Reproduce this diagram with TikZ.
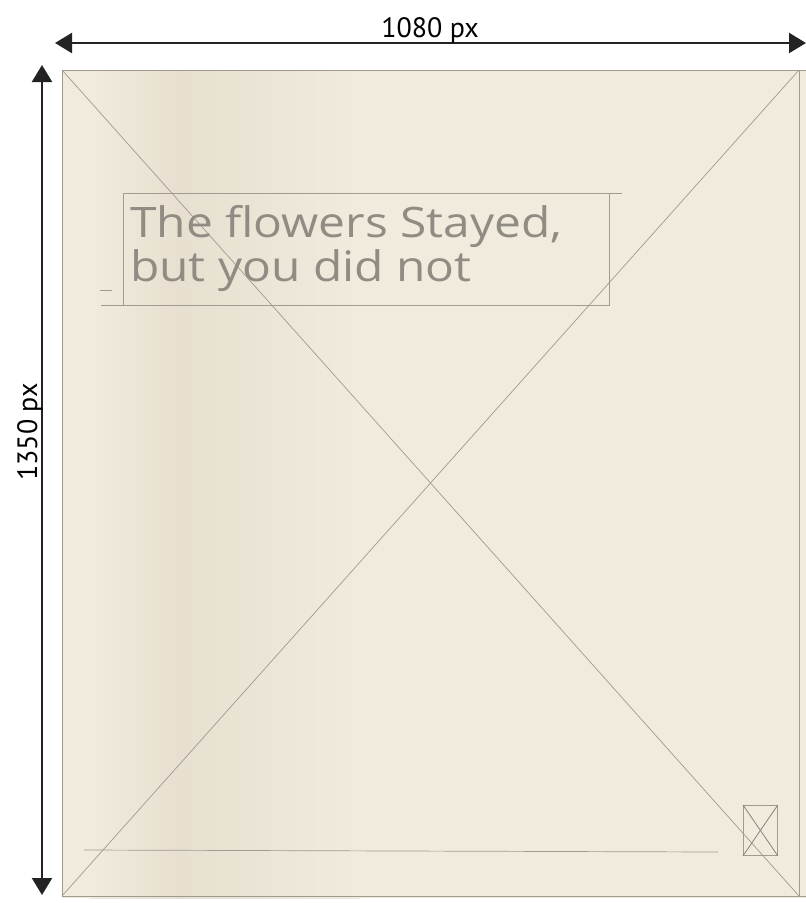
\documentclass[tikz,border=0pt]{standalone}
\usepackage{fontspec}
\setmainfont{Open Sans}
\newfontfamily\labelfont{PT Sans}
\usetikzlibrary{arrows.meta}
\definecolor{paper}{RGB}{241,235,222}
\definecolor{paperdark}{RGB}{231,224,208}
\definecolor{pencil}{RGB}{160,154,143}
\definecolor{pencildark}{RGB}{135,130,122}
\definecolor{penciltext}{RGB}{145,140,131}
\definecolor{ink}{RGB}{35,35,35}
\begin{document}
\begin{tikzpicture}[x=1pt,y=-1pt,
  pencilline/.style={draw=pencil, line width=0.7pt},
  dimarrow/.style={draw=ink, line width=2.2pt,
     {Triangle[length=17pt,width=20pt]}-{Triangle[length=17pt,width=20pt]}},
  dimlabel/.style={font=\labelfont\fontsize{28}{30}\selectfont, text=black, inner sep=0pt},
  handtext/.style={font=\fontsize{42}{40}\selectfont, text=penciltext, inner sep=0pt, anchor=base west, xscale=1.14}]
\useasboundingbox (0,0) rectangle (806,903);
\fill[white] (0,0) rectangle (806,903);
% paper corners
\coordinate (tl) at (62,70);
\coordinate (tr) at (799,70);
\coordinate (br) at (799,896);
\coordinate (bl) at (62,896);
\fill[paper] (tl) rectangle (806,898);
\shade[left color=paper, right color=paperdark] (90,70) rectangle (180,898);
\shade[left color=paperdark, right color=paper] (180,70) rectangle (360,898);
% paper outline and diagonals
\draw[pencilline] (tl) -- (806,70);
\draw[pencilline] (tl) -- (bl) -- (806,896);
\draw[pencilline] (tr) -- (br);
\draw[pencilline] (tl) -- (br);
\draw[pencilline] (tr) -- (bl);
% dimension arrows
\coordinate (hl) at (55,43);
\coordinate (hr) at (806,43);
\draw[dimarrow] (hl) -- (hr);
\node[dimlabel, anchor=base] (wlabel) at (430,37) {1080 px};
\coordinate (vt) at (42,65);
\coordinate (vb) at (42,895);
\draw[dimarrow] (vt) -- (vb);
\node[dimlabel, anchor=base, rotate=90] (hlabel) at (37,432) {1350 px};
% caption box
\node[draw=pencil, line width=0.7pt, anchor=north west, minimum width=486pt, minimum height=112pt, inner sep=0pt] (box) at (123,193) {};
\draw[pencilline] (box.north east) -- ++(12,0);
\draw[pencilline] (box.south west) -- ++(-22,0);
\draw[pencilline] (100,290) -- (112,290);
\node[handtext] (caption1) at (130,237) {The flowers Stayed,};
\node[handtext] (caption2) at (130,281) {but you did not};
% bottom line and small box
\coordinate (ll) at (84,850);
\coordinate (lr) at (718,852);
\draw[pencilline] (ll) -- (lr);
\node[draw=pencil, line width=0.8pt, anchor=north west, minimum width=34pt, minimum height=50pt, inner sep=0pt] (mini) at (743,805) {};
\draw[draw=pencildark, line width=0.8pt] (mini.north west) -- (mini.south east);
\draw[draw=pencildark, line width=0.8pt] (mini.north east) -- (mini.south west);
\end{tikzpicture}
\end{document}
